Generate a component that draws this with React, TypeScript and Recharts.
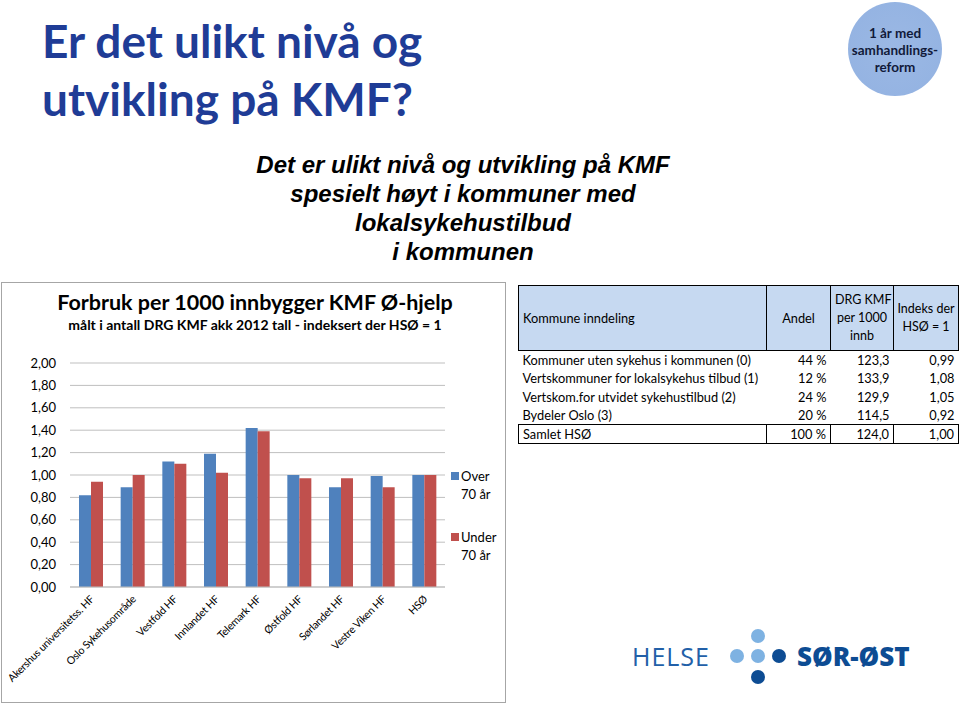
import React from "react";
import { BarChart, Bar, XAxis, YAxis, CartesianGrid, Legend } from "recharts";

// Helseforetak (categories) and index values, HSØ = 1
const regions = [
  "Akershus universitetss. HF",
  "Oslo Sykehusområde",
  "Vestfold HF",
  "Innlandet HF",
  "Telemark HF",
  "Østfold HF",
  "Sørlandet HF",
  "Vestre Viken HF",
  "HSØ",
];
const over70 = [0.82, 0.89, 1.12, 1.19, 1.42, 1.0, 0.89, 0.99, 1.0];
const under70 = [0.94, 1.0, 1.1, 1.02, 1.39, 0.97, 0.97, 0.89, 1.0];
const yTicks = [0, 0.2, 0.4, 0.6, 0.8, 1.0, 1.2, 1.4, 1.6, 1.8, 2.0];

// table on the right
const tableRows = [
  "Kommuner uten sykehus i kommunen (0)",
  "Vertskommuner for lokalsykehus tilbud (1)",
  "Vertskom.for utvidet sykehustilbud (2)",
  "Bydeler Oslo (3)",
  "Samlet HSØ",
];
const andel = ["44 %", "12 %", "24 %", "20 %", "100 %"];
const drgPer1000 = ["123,3", "133,9", "129,9", "114,5", "124,0"];
const indeks = ["0,99", "1,08", "1,05", "0,92", "1,00"];

const data = regions.map((name, i) => ({ name, over: over70[i], under: under70[i] }));

const FONT = "Lato, 'Open Sans', sans-serif";
const BLUE = "#4F81BD";
const RED = "#C0504D";

const fmt = (v: number) => v.toFixed(2).replace(".", ",");

const XTick = (props: any) => {
  const { x, y, payload } = props;
  const ax = x + 4;
  const ay = y + 13;
  return (
    <text
      x={ax}
      y={ay}
      transform={`rotate(-45, ${ax}, ${ay})`}
      textAnchor="end"
      fontSize={10.6}
      letterSpacing={-0.25}
      fontFamily={FONT}
      fill="#000"
    >
      {payload.value}
    </text>
  );
};

const LegendBox = () => {
  const items = [
    { color: BLUE, lines: ["Over", "70 år"] },
    { color: RED, lines: ["Under", "70 år"] },
  ];
  return (
    <div style={{ width: 60, fontFamily: FONT, fontSize: 13, color: "#000" }}>
      {items.map((it, i) => (
        <div key={i} style={{ position: "relative", paddingLeft: 13, lineHeight: "18px", marginBottom: i === 0 ? 25 : 0 }}>
          <span style={{ position: "absolute", left: 3, top: 5, width: 8, height: 8, background: it.color }} />
          <div>{it.lines[0]}</div>
          <div>{it.lines[1]}</div>
        </div>
      ))}
    </div>
  );
};

const cell: React.CSSProperties = { padding: "0 4px", whiteSpace: "nowrap" };
const line = "1px solid #000";

export default function App() {
  return (
    <div style={{ position: "fixed", left: 0, top: 0, width: 960, height: 706, background: "#fff", overflow: "hidden" }}>
      {/* slide title */}
      <div
        style={{
          position: "absolute",
          left: 42,
          top: 12,
          fontFamily: FONT,
          fontWeight: 700,
          fontSize: 46,
          lineHeight: "58px",
          color: "#1F3C96",
          whiteSpace: "nowrap",
        }}
      >
        <div>Er det ulikt nivå og</div>
        <div>utvikling på KMF?</div>
      </div>

      {/* badge */}
      <div
        style={{
          position: "absolute",
          left: 848,
          top: 2,
          width: 94,
          height: 94,
          borderRadius: "50%",
          background: "radial-gradient(circle, #9BB8E4 0%, #94B3E2 80%, #B4CAEC 100%)",
          display: "flex",
          alignItems: "center",
          justifyContent: "center",
          textAlign: "center",
          fontFamily: FONT,
          fontWeight: 700,
          fontSize: 13.5,
          lineHeight: "17px",
          color: "#111a3a",
          whiteSpace: "nowrap",
        }}
      >
        <div style={{ marginTop: 2 }}>
          1 år med
          <br />
          samhandlings-
          <br />
          reform
        </div>
      </div>

      {/* centred italic message */}
      <div
        style={{
          position: "absolute",
          left: 163,
          top: 150,
          width: 600,
          textAlign: "center",
          fontFamily: "'Liberation Sans', Arial, sans-serif",
          fontStyle: "italic",
          fontWeight: 700,
          fontSize: 24,
          lineHeight: "29px",
          color: "#000",
        }}
      >
        <div>Det er ulikt nivå og utvikling på KMF</div>
        <div>spesielt høyt i kommuner med</div>
        <div>lokalsykehustilbud</div>
        <div>i kommunen</div>
      </div>

      {/* chart frame */}
      <div
        style={{
          position: "absolute",
          left: 1,
          top: 282,
          width: 505,
          height: 421,
          border: "1px solid #A6A6A6",
          boxSizing: "border-box",
        }}
      />
      <div
        style={{
          position: "absolute",
          left: 0,
          top: 289,
          width: 510,
          textAlign: "center",
          fontFamily: FONT,
          fontWeight: 700,
          color: "#000",
          whiteSpace: "nowrap",
        }}
      >
        <div style={{ fontSize: 21.5, lineHeight: "26px" }}>Forbruk per 1000 innbygger KMF Ø-hjelp</div>
        <div style={{ fontSize: 14, lineHeight: "20px" }}>målt i antall DRG KMF akk 2012 tall - indeksert der HSØ = 1</div>
      </div>

      <div style={{ position: "absolute", left: 0, top: 282 }}>
        <BarChart
          width={510}
          height={424}
          data={data}
          margin={{ top: 81, right: 65, bottom: 4, left: 0 }}
          barGap={0}
          barSize={12}
        >
          <CartesianGrid vertical={false} stroke="#BFBFBF" />
          <XAxis
            dataKey="name"
            interval={0}
            height={115}
            tick={<XTick />}
            tickLine={false}
            tickSize={0}
            tickMargin={0}
            axisLine={{ stroke: "#BFBFBF" }}
          />
          <YAxis
            domain={[0, 2]}
            ticks={yTicks}
            width={70}
            tickFormatter={fmt}
            axisLine={false}
            tickLine={false}
            tickSize={0}
            tickMargin={14}
            tick={{ fontSize: 13, fontFamily: FONT, fill: "#000" }}
            interval={0}
          />
          <Legend
            layout="vertical"
            align="center"
            verticalAlign="middle"
            content={<LegendBox />}
            wrapperStyle={{ left: 448, top: 185, right: "auto", bottom: "auto", width: 60 }}
          />
          <Bar dataKey="over" name="Over 70 år" fill={BLUE} isAnimationActive={false} />
          <Bar dataKey="under" name="Under 70 år" fill={RED} isAnimationActive={false} />
        </BarChart>
      </div>

      {/* table */}
      <table
        style={{
          position: "absolute",
          left: 518,
          top: 285,
          width: 440,
          borderCollapse: "collapse",
          fontFamily: FONT,
          fontSize: 12.8,
          color: "#000",
          tableLayout: "fixed",
        }}
      >
        <colgroup>
          <col style={{ width: 248 }} />
          <col style={{ width: 64 }} />
          <col style={{ width: 63 }} />
          <col style={{ width: 65 }} />
        </colgroup>
        <thead>
          <tr style={{ height: 65, background: "#C6D9F1" }}>
            <th style={{ ...cell, textAlign: "left", fontWeight: 400, border: line }}>Kommune inndeling</th>
            <th style={{ ...cell, textAlign: "center", fontWeight: 400, border: line }}>Andel</th>
            <th style={{ ...cell, textAlign: "center", fontWeight: 400, lineHeight: "18px", border: line, fontSize: 12.5 }}>
              DRG KMF
              <br />
              per 1000
              <br />
              innb
            </th>
            <th
              style={{
                ...cell,
                padding: "0 1px",
                textAlign: "center",
                fontWeight: 400,
                lineHeight: "18px",
                verticalAlign: "top",
                paddingTop: 14,
                border: line,
                fontSize: 12.5,
              }}
            >
              Indeks der
              <br />
              HSØ = 1
            </th>
          </tr>
        </thead>
        <tbody>
          {tableRows.map((r, i) => {
            const last = i === tableRows.length - 1;
            const b = last ? line : "none";
            const s: React.CSSProperties = { ...cell, border: b };
            return (
              <tr key={r} style={{ height: last ? 19 : 18.5 }}>
                <td style={{ ...s, textAlign: "left" }}>{r}</td>
                <td style={{ ...s, textAlign: "right" }}>{andel[i]}</td>
                <td style={{ ...s, textAlign: "right" }}>{drgPer1000[i]}</td>
                <td style={{ ...s, textAlign: "right" }}>{indeks[i]}</td>
              </tr>
            );
          })}
        </tbody>
      </table>

      {/* Helse Sør-Øst logo */}
      <div
        style={{
          position: "absolute",
          left: 632,
          top: 640,
          fontFamily: "'Open Sans', sans-serif",
          fontSize: 25,
          lineHeight: "32px",
          letterSpacing: 1,
          color: "#2260A8",
        }}
      >
        HELSE
      </div>
      {[
        [758, 636, "#7EB2E2"],
        [737, 656, "#7EB2E2"],
        [758, 656, "#7EB2E2"],
        [779, 656, "#0D4C93"],
        [758, 677, "#0D4C93"],
      ].map(([cx, cy, c], i) => (
        <div
          key={i}
          style={{
            position: "absolute",
            left: (cx as number) - 7,
            top: (cy as number) - 7,
            width: 14,
            height: 14,
            borderRadius: "50%",
            background: c as string,
          }}
        />
      ))}
      <div
        style={{
          position: "absolute",
          left: 797,
          top: 639,
          fontFamily: "'Open Sans', sans-serif",
          fontWeight: 800,
          fontSize: 26,
          lineHeight: "34px",
          color: "#0D4C93",
        }}
      >
        SØR-ØST
      </div>
    </div>
  );
}
